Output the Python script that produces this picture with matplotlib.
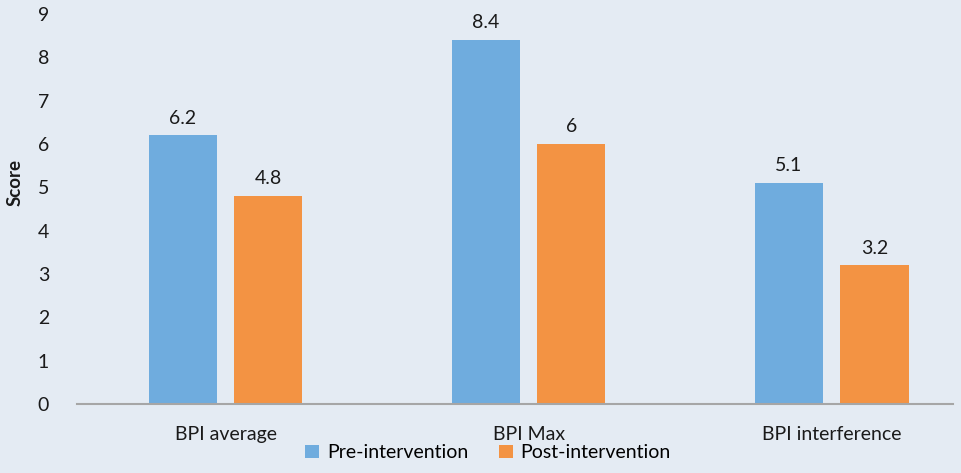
import matplotlib.pyplot as plt
import numpy as np

# data
categories = ["BPI average", "BPI Max", "BPI interference"]
pre_values = [6.2, 8.4, 5.1]
post_values = [4.8, 6, 3.2]
series_names = ["Pre-intervention", "Post-intervention"]

bg = "#E4EBF3"
blue = "#6FACDE"
orange = "#F39343"

plt.rcParams['font.family'] = ['Lato', 'DejaVu Sans']

fig = plt.figure(figsize=(9.61, 4.73), dpi=100, facecolor=bg)
ax = fig.add_axes([0.0801, 0.1459, 0.9116, 0.8245], facecolor=bg)

x = np.arange(len(categories))
w = 0.225
off = 0.141
b1 = ax.bar(x - off, pre_values, w, color=blue, label=series_names[0])
b2 = ax.bar(x + off, post_values, w, color=orange, label=series_names[1])

for bars, vals in [(b1, pre_values), (b2, post_values)]:
    for r, v in zip(bars, vals):
        ax.text(r.get_x() + r.get_width() / 2, v + 0.2, f"{v:g}",
                ha="center", va="bottom", fontsize=14, color="#1a1a1a")

ax.set_xlim(-0.49, 2.40)
ax.set_ylim(0, 9)
ax.set_yticks(range(10))
ax.set_xticks(x)
ax.set_xticklabels(categories)
ax.tick_params(axis="both", length=0, labelsize=14, colors="#1a1a1a")
ax.tick_params(axis="x", pad=16)
ax.tick_params(axis="y", pad=20)

for s in ["top", "right", "left"]:
    ax.spines[s].set_visible(False)
ax.spines["bottom"].set_color("#A6A6A6")
ax.spines["bottom"].set_linewidth(1.5)

# axis title sits a bit above the middle in the reference
fig.text(15 / 961, 1 - 182 / 473, "Score", rotation=90, ha="center", va="center",
         fontsize=13.5, fontweight="bold", color="#1a1a1a")

fig.legend(loc="lower center", bbox_to_anchor=(0.508, -0.012), ncol=2, frameon=False,
           fontsize=14, handlelength=0.7, handleheight=0.7, handletextpad=0.4,
           columnspacing=1.6)

fig.savefig("out.png", dpi=100, facecolor=bg)
